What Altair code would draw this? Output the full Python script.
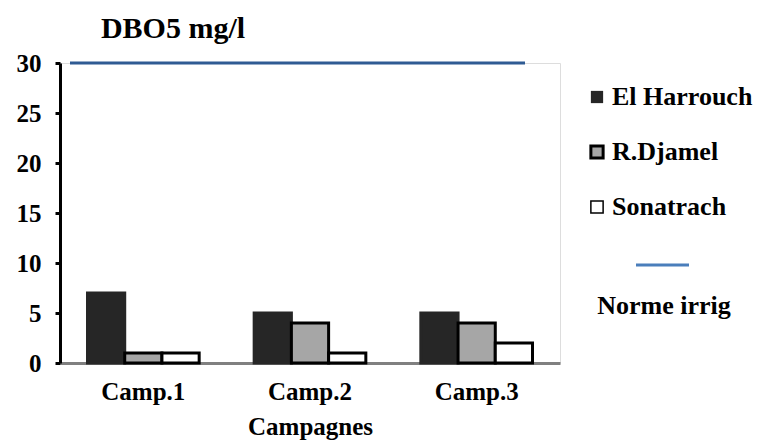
import altair as alt
import pandas as pd

campagnes = ["Camp.1", "Camp.2", "Camp.3"]
series = ["El Harrouch", "R.Djamel", "Sonatrach"]
el_harrouch = [7, 5, 5]
r_djamel = [1, 4, 4]
sonatrach = [1, 1, 2]
norme_irrig = 30
y_ticks = [0, 5, 10, 15, 20, 25, 30]
fills = ["#262626", "#a6a6a6", "#ffffff"]
strokes = ["#262626", "#000000", "#000000"]

rows = []
for name, vals in zip(series, [el_harrouch, r_djamel, sonatrach]):
    for c, v in zip(campagnes, vals):
        rows.append({"Campagne": c, "Station": name, "DBO5": v})
df = pd.DataFrame(rows)

FONT = "Liberation Serif"

bars = alt.Chart(df).mark_bar(strokeWidth=3).encode(
    x=alt.X("Campagne:N", sort=campagnes,
            scale=alt.Scale(paddingInner=0.33, paddingOuter=0.165),
            axis=alt.Axis(title="Campagnes", labelAngle=0, ticks=False,
                          domainColor="#808080", domainWidth=3,
                          labelFont=FONT, labelFontSize=25, labelFontWeight="bold",
                          labelColor="black", labelPadding=16,
                          titleFont=FONT, titleFontSize=25, titleFontWeight="bold",
                          titleColor="black", titlePadding=10)),
    xOffset=alt.XOffset("Station:N", sort=series, scale=alt.Scale(paddingInner=0)),
    y=alt.Y("DBO5:Q", scale=alt.Scale(domain=[0, 30], nice=False),
            axis=alt.Axis(title=None, values=y_ticks, grid=False,
                          domainColor="black", domainWidth=3,
                          tickColor="black", tickWidth=3, tickSize=5,
                          labelFont=FONT, labelFontSize=25, labelFontWeight="bold",
                          labelColor="black", labelPadding=14)),
    fill=alt.Fill("Station:N", sort=series,
                  scale=alt.Scale(domain=series, range=fills), legend=None),
    stroke=alt.Stroke("Station:N", sort=series,
                      scale=alt.Scale(domain=series, range=strokes), legend=None),
)

norme_df = pd.DataFrame({"val": [norme_irrig]})
rule = alt.Chart(norme_df).mark_rule(color="#2F5B93", strokeWidth=3).encode(
    y=alt.Y("val:Q"),
    x=alt.value(10),
    x2=alt.value(465),
)

layers = [bars, rule]

# manual legend entries
leg_y = [34, 89, 144]
leg_sw = [0, 3, 1.5]
for name, f, s, yy, sw in zip(series, fills, strokes, leg_y, leg_sw):
    one = pd.DataFrame({"t": [name]})
    layers.append(alt.Chart(one).mark_square(size=150, fill=f, stroke=s, strokeWidth=sw, opacity=1).encode(
        x=alt.value(537), y=alt.value(yy)))
    layers.append(alt.Chart(one).mark_text(
        font=FONT, fontSize=26, fontWeight="bold", color="black", align="left", baseline="middle"
    ).encode(text="t:N", x=alt.value(552), y=alt.value(yy)))

leg_line = alt.Chart(norme_df).mark_rule(color="#4A7EBB", strokeWidth=3).encode(
    x=alt.value(576), x2=alt.value(629), y=alt.value(202)
)
leg_text = alt.Chart(pd.DataFrame({"t": ["Norme irrig"]})).mark_text(
    font=FONT, fontSize=26, fontWeight="bold", color="black", align="center", baseline="middle"
).encode(text="t:N", x=alt.value(604), y=alt.value(243))

title_text = alt.Chart(pd.DataFrame({"t": ["DBO5 mg/l"]})).mark_text(
    font=FONT, fontSize=30, fontWeight="bold", color="black", align="center", baseline="alphabetic"
).encode(text="t:N", x=alt.value(113), y=alt.value(-25))

layers += [leg_line, leg_text, title_text]

chart = alt.layer(*layers).properties(
    width=500, height=300,
    autosize=alt.AutoSizeParams(type="none"),
    padding={"left": 60, "top": 63, "right": 198, "bottom": 84},
).configure_view(stroke="black", strokeWidth=3).configure(background="white")

chart.save("out.html", embed_options={"renderer": "svg", "actions": False})
